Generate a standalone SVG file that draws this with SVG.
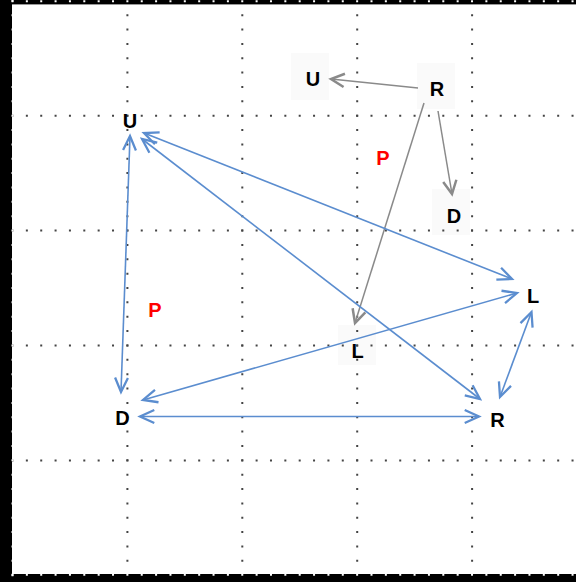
<svg xmlns="http://www.w3.org/2000/svg" width="576" height="582" viewBox="0 0 576 582">
  <style>
    .grid { stroke: #444; stroke-width: 2; stroke-dasharray: 2 12.36; fill: none; }
    .edge { stroke: #fff; stroke-width: 2; stroke-dasharray: 2 12.36; fill: none; }
    .lbl { font-family: "Liberation Sans", Arial, sans-serif; font-weight: bold; font-size: 20px; text-anchor: middle; fill: #000; }
    .red { fill: #ff0000; }
    .box { fill: #fafafa; }
    .gray { stroke: #8a8a8a; stroke-width: 1.5; fill: none; }
    .blue { stroke: #5b8dcf; stroke-width: 1.6; fill: none; }
  </style>
  <defs>
    <marker id="headGray" markerUnits="userSpaceOnUse" markerWidth="20" markerHeight="20" viewBox="-10 -6 12 12" refX="0" refY="0" orient="auto-start-reverse">
      <path d="M -8 -4 L 0 0 L -8 4" stroke="#8a8a8a" stroke-width="1.5" fill="none"/>
    </marker>
    <marker id="headBlue" markerUnits="userSpaceOnUse" markerWidth="20" markerHeight="20" viewBox="-12 -7 14 14" refX="0" refY="0" orient="auto-start-reverse">
      <path d="M -10 -4.5 L 0 0 L -10 4.5" stroke="#5b8dcf" stroke-width="1.6" fill="none"/>
    </marker>
  </defs>

  <rect width="576" height="582" fill="#fff"/>

  <!-- faint label backgrounds -->
  <g id="label-boxes">
    <rect class="box" x="291" y="53" width="38" height="47"/>
    <rect class="box" x="417" y="63" width="38" height="46"/>
    <rect class="box" x="432" y="189" width="38" height="46"/>
    <rect class="box" x="338" y="325" width="38" height="40"/>
  </g>

  <!-- dotted grid -->
  <g id="grid">
    <line class="grid" x1="127.4" y1="-0.2" x2="127.4" y2="582"/>
    <line class="grid" x1="242.3" y1="-0.2" x2="242.3" y2="582"/>
    <line class="grid" x1="357.2" y1="-0.2" x2="357.2" y2="582"/>
    <line class="grid" x1="472.1" y1="-0.2" x2="472.1" y2="582"/>
    <line class="grid" x1="11.5" y1="115.7" x2="576" y2="115.7"/>
    <line class="grid" x1="11.5" y1="230.6" x2="576" y2="230.6"/>
    <line class="grid" x1="11.5" y1="345.5" x2="576" y2="345.5"/>
    <line class="grid" x1="11.5" y1="460.4" x2="576" y2="460.4"/>
  </g>

  <!-- frame -->
  <g id="frame">
    <rect x="0" y="0" width="576" height="4" fill="#000"/>
    <line x1="0" y1="4.5" x2="576" y2="4.5" stroke="#999" stroke-width="1"/>
    <rect x="0" y="0" width="12" height="582" fill="#000"/>
    <rect x="0" y="574" width="576" height="8" fill="#000"/>
    <line class="edge" x1="12.5" y1="-0.2" x2="12.5" y2="582"/>
    <line class="edge" x1="11.5" y1="1.2" x2="576" y2="1.2"/>
    <line class="edge" x1="11.5" y1="574.8" x2="576" y2="574.8"/>
  </g>

  <!-- connectors -->
  <g id="connectors">
    <line class="gray" x1="418" y1="88" x2="331" y2="79" marker-end="url(#headGray)"/>
    <line class="gray" x1="438" y1="111" x2="452" y2="194" marker-end="url(#headGray)"/>
    <line class="gray" x1="424" y1="103" x2="355" y2="323" marker-end="url(#headGray)"/>

    <line class="blue" x1="130" y1="136" x2="121" y2="392" marker-start="url(#headBlue)" marker-end="url(#headBlue)"/>
    <line class="blue" x1="144" y1="133" x2="512" y2="279" marker-start="url(#headBlue)" marker-end="url(#headBlue)"/>
    <line class="blue" x1="142" y1="139" x2="480" y2="399" marker-start="url(#headBlue)" marker-end="url(#headBlue)"/>
    <line class="blue" x1="143" y1="400" x2="517" y2="293" marker-start="url(#headBlue)" marker-end="url(#headBlue)"/>
    <line class="blue" x1="140" y1="416.5" x2="479" y2="416.5" marker-start="url(#headBlue)" marker-end="url(#headBlue)"/>
    <line class="blue" x1="531.5" y1="312" x2="500" y2="397" marker-start="url(#headBlue)" marker-end="url(#headBlue)"/>
  </g>

  <!-- nodes -->
  <g id="node-u-top">
    <text class="lbl" x="313" y="86">U</text>
  </g>
  <g id="node-r-top">
    <text class="lbl" x="437" y="96">R</text>
  </g>
  <g id="node-d-top">
    <text class="lbl" x="454" y="223">D</text>
  </g>
  <g id="label-p-top">
    <text class="lbl red" x="383" y="165">P</text>
  </g>
  <g id="node-l-mid">
    <text class="lbl" x="357.5" y="358">L</text>
  </g>
  <g id="node-u">
    <text class="lbl" x="130" y="128">U</text>
  </g>
  <g id="node-d">
    <text class="lbl" x="122.5" y="425">D</text>
  </g>
  <g id="node-r">
    <text class="lbl" x="497.5" y="427">R</text>
  </g>
  <g id="node-l">
    <text class="lbl" x="533" y="303">L</text>
  </g>
  <g id="label-p-left">
    <text class="lbl red" x="155" y="317">P</text>
  </g>
</svg>
